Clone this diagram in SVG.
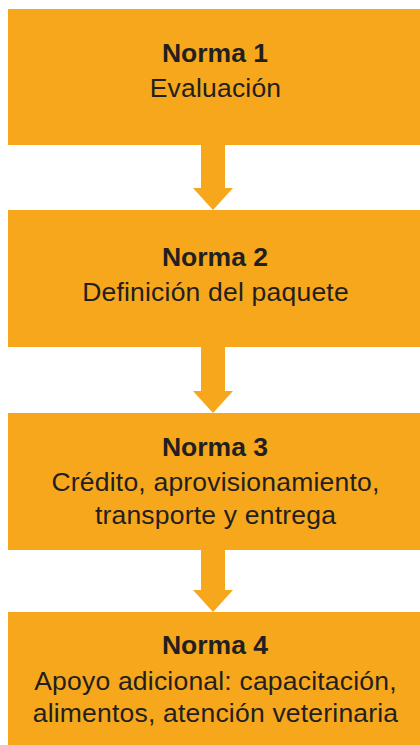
<svg xmlns="http://www.w3.org/2000/svg" width="420" height="745" viewBox="0 0 420 745">
<style>
.box{fill:#F6A71C}
.arrow{fill:#F6A71C}
text{font-family:"Liberation Sans",Arial,Helvetica,sans-serif;fill:#231F20;text-anchor:middle;font-size:26.5px;letter-spacing:0.2px}
.t{font-weight:bold;letter-spacing:0}
</style>
<rect width="420" height="745" fill="#ffffff"/>
<g id="connectors">
<polygon class="arrow" points="201,144 225,144 225,188 233,188 213,210 193,188 201,188"/>
<polygon class="arrow" points="201,346 225,346 225,391 233,391 213,413 193,391 201,391"/>
<polygon class="arrow" points="201,549 225,549 225,590 233,590 213,612 193,590 201,590"/>
</g>
<g id="norma1">
<rect class="box" x="8" y="9" width="412" height="136"/>
<text class="t" x="215" y="62">Norma 1</text>
<text x="215.5" y="97">Evaluación</text>
</g>
<g id="norma2">
<rect class="box" x="8" y="210" width="412" height="137"/>
<text class="t" x="215" y="266">Norma 2</text>
<text x="215.5" y="301">Definición del paquete</text>
</g>
<g id="norma3">
<rect class="box" x="8" y="413" width="412" height="137"/>
<text class="t" x="215" y="456">Norma 3</text>
<text x="215.5" y="491">Crédito, aprovisionamiento,</text>
<text x="215.5" y="523.5">transporte y entrega</text>
</g>
<g id="norma4">
<rect class="box" x="8" y="612" width="412" height="133"/>
<text class="t" x="215" y="654">Norma 4</text>
<text x="215.5" y="690">Apoyo adicional: capacitación,</text>
<text x="215.5" y="722">alimentos, atención veterinaria</text>
</g>
</svg>
